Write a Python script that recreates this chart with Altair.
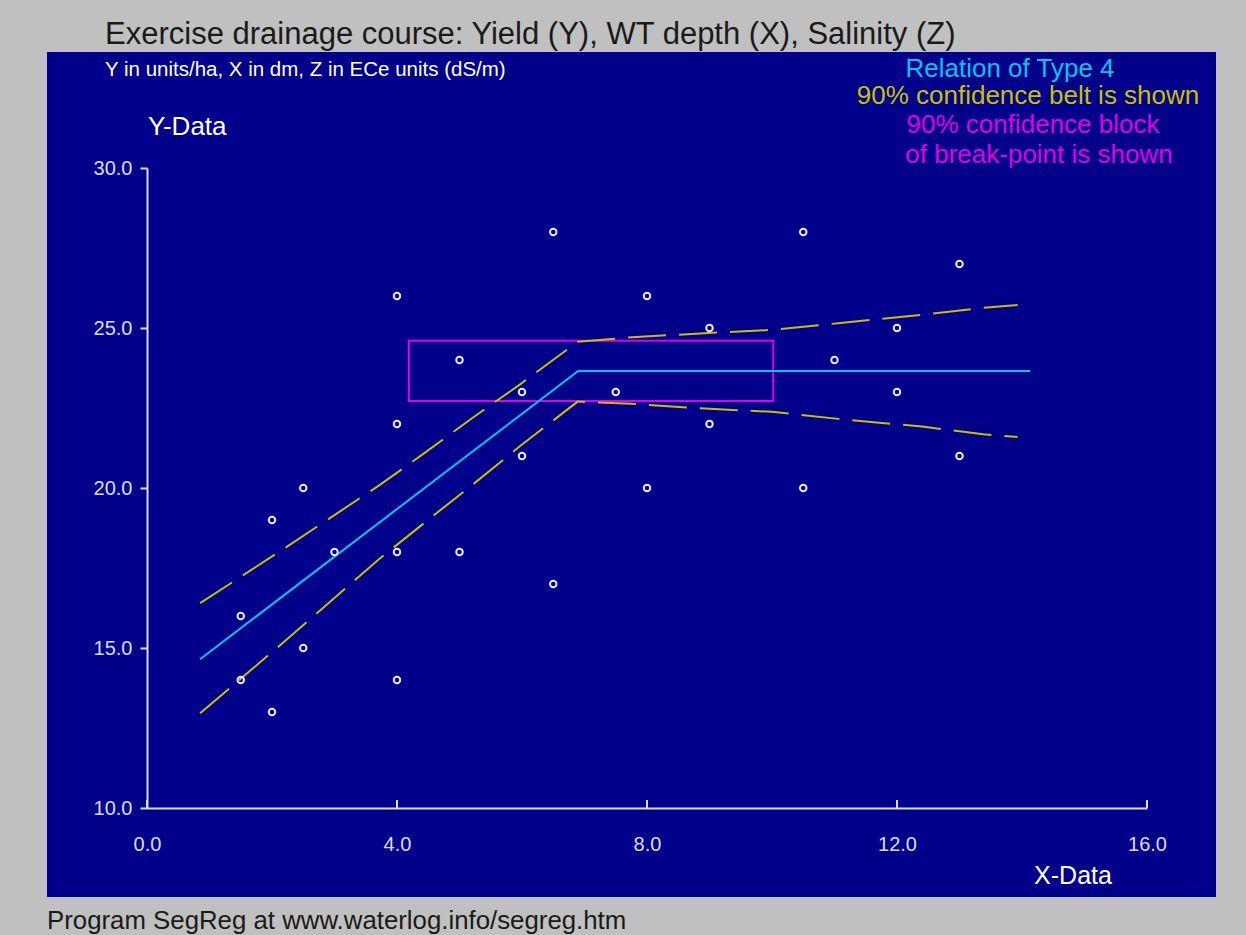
import altair as alt
import pandas as pd

# ---- data ----
pt_x = [1.5, 1.5, 2.0, 2.0, 2.5, 2.5, 3.0, 4.0, 4.0, 4.0, 4.0, 5.0, 5.0, 6.0, 6.0,
        6.5, 6.5, 7.5, 8.0, 8.0, 9.0, 9.0, 10.5, 10.5, 11.0, 12.0, 12.0, 13.0, 13.0]
pt_y = [16, 14, 19, 13, 20, 15, 18, 26, 22, 18, 14, 24, 18, 23, 21,
        28, 17, 23, 26, 20, 25, 22, 28, 20, 24, 25, 23, 27, 21]

fit_x = [0.85, 6.9, 14.13]
fit_y = [14.65, 23.66, 23.66]

up_x = [0.85, 2.18, 3.72, 4.41, 5.2, 5.97, 6.89, 7.76, 8.85, 10.0, 11.06, 12.4, 13.38, 13.93]
up_y = [16.40, 18.09, 20.09, 21.05, 22.18, 23.24, 24.57, 24.71, 24.83, 24.94, 25.15, 25.41, 25.63, 25.72]
lo_x = [0.85, 2.18, 3.72, 4.63, 5.2, 5.97, 6.89, 7.76, 8.85, 10.0, 11.06, 12.4, 13.38, 13.93]
lo_y = [12.96, 15.17, 17.79, 19.21, 20.09, 21.31, 22.70, 22.63, 22.49, 22.38, 22.16, 21.92, 21.68, 21.59]

box_x = [4.19]
box_x2 = [10.02]
box_y = [22.72]
box_y2 = [24.60]

x_ticks = [0, 4, 8, 12, 16]
y_ticks = [10, 15, 20, 25, 30]

NAVY = "#00008b"
GREY = "#c0c0c0"
AXIS = "#dcdcf8"
CYAN = "#00c8ec"
YEL = "#c8c000"
MAG = "#e000e0"
FONT = "Liberation Sans"

W, H = 1000, 640
xs = alt.Scale(domain=[0, 16], nice=False, zero=False)
ys = alt.Scale(domain=[10, 30], nice=False, zero=False)

points = pd.DataFrame({"x": pt_x, "y": pt_y})
fit = pd.DataFrame({"x": fit_x, "y": fit_y})
belt = pd.concat([
    pd.DataFrame({"x": up_x, "y": up_y, "s": "upper"}),
    pd.DataFrame({"x": lo_x, "y": lo_y, "s": "lower"}),
])
box = pd.DataFrame({"x": box_x, "x2": box_x2, "y": box_y, "y2": box_y2})
xt = pd.DataFrame({"v": x_ticks})

panel = alt.Chart(pd.DataFrame({"a": [0]})).mark_rect(color=NAVY).encode(
    x=alt.value(-100), x2=alt.value(1069), y=alt.value(-116), y2=alt.value(729)
)

axes = alt.Chart(points).mark_point(opacity=0).encode(
    x=alt.X("x:Q", scale=xs, axis=alt.Axis(
        values=x_ticks, format=".1f", title=None, ticks=False, grid=False, zindex=1,
        labelFlush=False, labelOverlap=False,
        domainColor=AXIS, domainWidth=2, labelColor=AXIS, labelFont=FONT,
        labelFontSize=20, labelPadding=26)),
    y=alt.Y("y:Q", scale=ys, axis=alt.Axis(
        values=y_ticks, format=".1f", title=None, grid=False, zindex=1, tickColor=AXIS,
        labelFlush=False, labelOverlap=False,
        tickSize=7, tickWidth=2, domainColor=AXIS, domainWidth=2,
        labelColor=AXIS, labelFont=FONT, labelFontSize=20, labelPadding=8)),
)

xtick_marks = alt.Chart(xt).mark_rule(color=AXIS, strokeWidth=2).encode(
    x=alt.X("v:Q", scale=xs), y=alt.value(H), y2=alt.value(H - 8)
)

box_layer = alt.Chart(box).mark_rect(fillOpacity=0, stroke=MAG, strokeWidth=2).encode(
    x=alt.X("x:Q", scale=xs), x2="x2:Q", y=alt.Y("y:Q", scale=ys), y2="y2:Q"
)

belt_layer = alt.Chart(belt).mark_line(color=YEL, strokeWidth=2, strokeDash=[38, 13]).encode(
    x=alt.X("x:Q", scale=xs), y=alt.Y("y:Q", scale=ys), detail="s:N", order="x:Q"
)

fit_layer = alt.Chart(fit).mark_line(color=CYAN, strokeWidth=2).encode(
    x=alt.X("x:Q", scale=xs), y=alt.Y("y:Q", scale=ys)
)

pts_layer = alt.Chart(points).mark_point(
    filled=False, color="#e8e8ff", size=42, strokeWidth=2, opacity=1
).encode(x=alt.X("x:Q", scale=xs), y=alt.Y("y:Q", scale=ys))


def label(txt, x, y, color, size, align="left"):
    return alt.Chart(pd.DataFrame({"t": [txt]})).mark_text(
        align=align, baseline="middle", font=FONT, fontSize=size, color=color
    ).encode(text="t:N", x=alt.value(x), y=alt.value(y))


texts = [
    label("Exercise drainage course: Yield (Y), WT depth (X), Salinity (Z)", -42, -133, "#1a1a1a", 31),
    label("Y in units/ha, X in dm, Z in ECe units (dS/m)", -42, -98, "white", 20.5),
    label("Y-Data", 1, -41, "white", 26),
    label("Relation of Type 4", 863, -99, CYAN, 26, "center"),
    label("90% confidence belt is shown", 881, -72, YEL, 26, "center"),
    label("90% confidence block", 886, -43, MAG, 26, "center"),
    label("of break-point is shown", 892, -13, MAG, 26, "center"),
    label("X-Data", 926, 708, "white", 25, "center"),
    label("Program SegReg at www.waterlog.info/segreg.htm", -100, 753, "#1a1a1a", 25.8),
]

chart = alt.layer(
    panel, axes, xtick_marks, box_layer, belt_layer, fit_layer, pts_layer, *texts
).properties(
    width=W, height=H,
    padding={"left": 147, "top": 168, "right": 99, "bottom": 127},
    autosize=alt.AutoSizeParams(type="none"),
    background=GREY,
).configure_view(stroke=None, fill=None)

chart.save("out.html", embed_options={"renderer": "svg", "actions": False})
